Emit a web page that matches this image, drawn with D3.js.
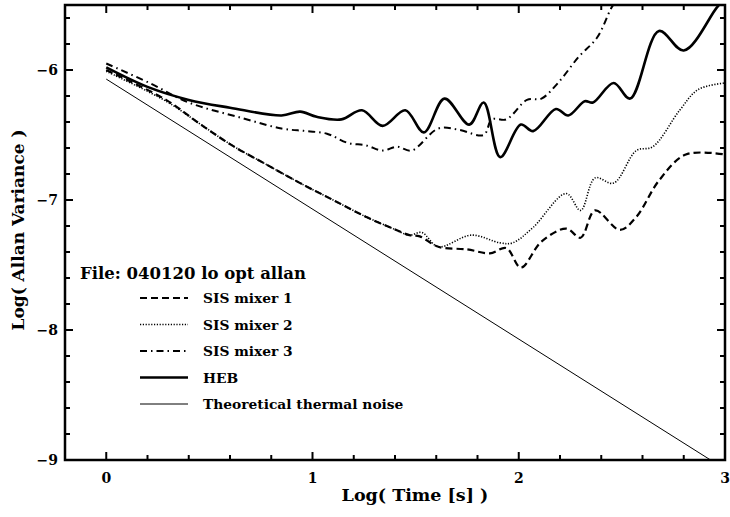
<!DOCTYPE html>
<html>
<head>
<meta charset="utf-8">
<script src="https://cdn.jsdelivr.net/npm/d3@7"></script>
<style>
  body { margin: 0; background: #fff; }
  text { font-family: "DejaVu Serif", serif; font-weight: bold; fill: #000; }
</style>
</head>
<body>
<svg id="chart" width="730" height="517"></svg>
<script>
// log10(time) and log10(Allan variance)
const hebX  = [0, 0.2, 0.4, 0.6, 0.85, 0.94, 1.02, 1.14, 1.24, 1.34, 1.45, 1.54, 1.64, 1.76, 1.83, 1.91, 2.01, 2.07, 2.18, 2.24, 2.32, 2.36, 2.46, 2.54, 2.68, 2.80, 2.96, 3.0];
const hebY  = [-5.98, -6.13, -6.23, -6.29, -6.35, -6.32, -6.36, -6.38, -6.31, -6.43, -6.31, -6.48, -6.22, -6.42, -6.25, -6.67, -6.42, -6.47, -6.30, -6.35, -6.24, -6.25, -6.10, -6.22, -5.70, -5.85, -5.52, -5.45];

const sis3X = [0, 0.21, 0.40, 0.66, 0.85, 0.97, 1.07, 1.17, 1.26, 1.34, 1.41, 1.48, 1.61, 1.71, 1.83, 1.87, 1.94, 2.04, 2.11, 2.19, 2.29, 2.38, 2.45, 2.50];
const sis3Y = [-5.95, -6.10, -6.25, -6.37, -6.45, -6.47, -6.49, -6.56, -6.58, -6.62, -6.59, -6.62, -6.45, -6.46, -6.50, -6.38, -6.38, -6.23, -6.22, -6.10, -5.90, -5.75, -5.52, -5.40];

const sis1X = [0, 0.29, 0.45, 0.61, 0.78, 0.94, 1.10, 1.26, 1.39, 1.47, 1.52, 1.61, 1.75, 1.86, 1.94, 2.01, 2.11, 2.23, 2.30, 2.37, 2.49, 2.57, 2.68, 2.81, 3.0];
const sis1Y = [-6.00, -6.23, -6.41, -6.58, -6.73, -6.87, -7.00, -7.13, -7.22, -7.27, -7.28, -7.36, -7.38, -7.41, -7.37, -7.52, -7.32, -7.22, -7.29, -7.08, -7.23, -7.13, -6.85, -6.65, -6.65];

const sis2X = [0, 0.29, 0.45, 0.61, 0.78, 0.94, 1.10, 1.26, 1.39, 1.47, 1.53, 1.61, 1.77, 1.91, 1.97, 2.07, 2.23, 2.30, 2.37, 2.46, 2.57, 2.65, 2.78, 2.87, 3.0];
const sis2Y = [-6.01, -6.24, -6.41, -6.58, -6.73, -6.87, -7.00, -7.13, -7.22, -7.27, -7.25, -7.36, -7.27, -7.33, -7.33, -7.21, -6.95, -7.08, -6.83, -6.87, -6.62, -6.59, -6.31, -6.15, -6.10];

const thermX = [0, 2.93];
const thermY = [-6.07, -9.0];

const xTicks = [0, 1, 2, 3];
const yTicks = [-9, -8, -7, -6];
const legendNames = ["SIS mixer 1", "SIS mixer 2", "SIS mixer 3", "HEB", "Theoretical thermal noise"];

const svg = d3.select("#chart");
const mLeft = 65, mRight = 725, mTop = 5, mBottom = 460;

const x = d3.scaleLinear().domain([-0.2, 3]).range([mLeft, mRight]);
const y = d3.scaleLinear().domain([-9, -5.5]).range([mBottom, mTop]);

svg.append("defs").append("clipPath").attr("id", "clip")
  .append("rect").attr("x", mLeft).attr("y", mTop).attr("width", mRight - mLeft).attr("height", mBottom - mTop);

const styles = [
  { xs: sis1X, ys: sis1Y, w: 2.2, dash: "7,4" },
  { xs: sis2X, ys: sis2Y, w: 1.6, dash: "1.2,1.6" },
  { xs: sis3X, ys: sis3Y, w: 2.0, dash: "7,4,1.5,4" },
  { xs: hebX,  ys: hebY,  w: 2.6, dash: null },
  { xs: thermX, ys: thermY, w: 1.0, dash: null }
];

const line = d3.line().x(d => x(d[0])).y(d => y(d[1])).curve(d3.curveCatmullRom.alpha(0.5));

const plot = svg.append("g").attr("clip-path", "url(#clip)");
styles.forEach(s => {
  plot.append("path")
    .datum(s.xs.map((v, i) => [v, s.ys[i]]))
    .attr("d", line)
    .attr("fill", "none")
    .attr("stroke", "#000")
    .attr("stroke-width", s.w)
    .attr("stroke-dasharray", s.dash);
});

// ticks pointing inward on all four sides
const minorX = d3.range(-0.2, 3.001, 0.2);
const minorY = d3.range(-9, -5.499, 0.2);
const ticks = svg.append("g").attr("stroke", "#000").attr("stroke-width", 2);
minorX.forEach(v => {
  const major = Math.abs(v - Math.round(v)) < 1e-6;
  const len = major ? 8 : 5;
  ticks.append("line").attr("x1", x(v)).attr("x2", x(v)).attr("y1", mBottom).attr("y2", mBottom - len);
  ticks.append("line").attr("x1", x(v)).attr("x2", x(v)).attr("y1", mTop).attr("y2", mTop + len);
});
minorY.forEach(v => {
  const major = Math.abs(v - Math.round(v)) < 1e-6;
  const len = major ? 8 : 5;
  ticks.append("line").attr("y1", y(v)).attr("y2", y(v)).attr("x1", mLeft).attr("x2", mLeft + len);
  ticks.append("line").attr("y1", y(v)).attr("y2", y(v)).attr("x1", mRight).attr("x2", mRight - len);
});

svg.append("rect")
  .attr("x", mLeft).attr("y", mTop).attr("width", mRight - mLeft).attr("height", mBottom - mTop)
  .attr("fill", "none").attr("stroke", "#000").attr("stroke-width", 2.5);

svg.selectAll(".xl").data(xTicks).enter().append("text")
  .attr("x", d => x(d)).attr("y", 483)
  .attr("text-anchor", "middle").attr("font-size", 14)
  .text(d => d);

svg.selectAll(".yl").data(yTicks).enter().append("text")
  .attr("x", 58).attr("y", d => y(d) + 5)
  .attr("text-anchor", "end").attr("font-size", 14)
  .text(d => "\u2212" + Math.abs(d));

svg.append("text").attr("x", 415).attr("y", 501)
  .attr("text-anchor", "middle").attr("font-size", 17.5)
  .text("Log( Time [s] )");

svg.append("text").attr("transform", "translate(24,230) rotate(-90)")
  .attr("text-anchor", "middle").attr("font-size", 17)
  .text("Log( Allan Variance )");

// legend
svg.append("text").attr("x", 80).attr("y", 279).attr("font-size", 16.5)
  .text("File: 040120 lo opt allan");

const lg = svg.append("g");
legendNames.forEach((name, i) => {
  const ly = 298 + i * 26.5;
  lg.append("line")
    .attr("x1", 140).attr("x2", 188).attr("y1", ly).attr("y2", ly)
    .attr("stroke", "#000")
    .attr("stroke-width", styles[i].w)
    .attr("stroke-dasharray", styles[i].dash);
  lg.append("text").attr("x", 203).attr("y", ly + 5).attr("font-size", 13.8)
    .text(name);
});
</script>
</body>
</html>
